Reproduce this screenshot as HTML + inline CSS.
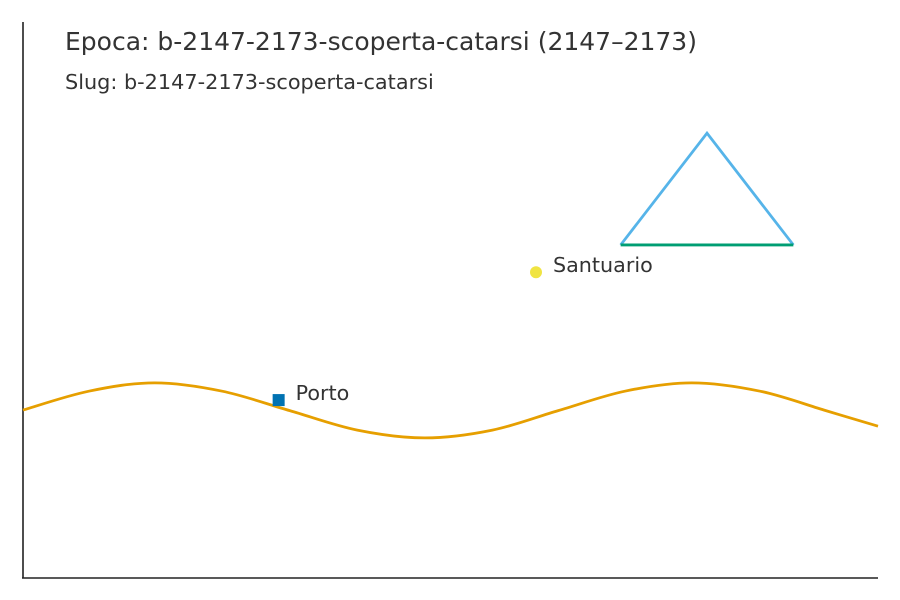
<!DOCTYPE html>
<html><head><meta charset="utf-8"><style>
body{margin:0;background:#fff;}
svg{display:block;font-family:"DejaVu Sans","Liberation Sans",sans-serif;}
</style></head><body>
<svg id="c" width="900" height="600">
<text x="65" y="50" font-size="25" fill="#333">Epoca: b-2147-2173-scoperta-catarsi (2147–2173)</text>
<text x="65" y="89" font-size="20.8" fill="#333">Slug: b-2147-2173-scoperta-catarsi</text>
<line x1="23" y1="22" x2="23" y2="578" stroke="#222" stroke-width="1.6"/>
<line x1="22" y1="578" x2="878" y2="578" stroke="#222" stroke-width="1.6"/>
</svg>
<script>
const waveX=[0,7.7,15.4,23.3,31.2,39.1,47,54.9,62.6,70.4,78.2,86.2,93.9,100];
const waveY=[30.2,33.6,35.1,33.6,30.1,26.6,25.2,26.6,30.1,33.6,35.1,33.6,30.1,27.3];
const triX=[69.9,80.0,90.1];
const triY=[59.9,80.0,59.9];
const placeNames=["Porto","Santuario"];
const placeX=[29.9,60.0];
const placeY=[32.0,55.0];
const xs=v=>23+v*8.55, ys=v=>578-v*5.56;
const svg=document.getElementById('c'), NS='http://www.w3.org/2000/svg';
function mk(t,a){const e=document.createElementNS(NS,t);for(const k in a)e.setAttribute(k,a[k]);svg.appendChild(e);return e;}
const P=waveX.map((x,i)=>[xs(x),ys(waveY[i])]);
let d=`M${P[0][0]},${P[0][1]}`;
for(let i=0;i<P.length-1;i++){const p0=P[Math.max(0,i-1)],p1=P[i],p2=P[i+1],p3=P[Math.min(P.length-1,i+2)];
d+=` C${p1[0]+(p2[0]-p0[0])/6},${p1[1]+(p2[1]-p0[1])/6} ${p2[0]-(p3[0]-p1[0])/6},${p2[1]-(p3[1]-p1[1])/6} ${p2[0]},${p2[1]}`;}
const w=mk('path',{d,fill:'none',stroke:'#E69F00','stroke-width':2.8});


const t1=mk('polyline',{points:[0,1,2].map(i=>xs(triX[i])+','+ys(triY[i])).join(' '),fill:'none',stroke:'#56B4E9','stroke-width':2.8});


const t2=mk('line',{x1:xs(triX[0]),y1:ys(triY[0]),x2:xs(triX[2]),y2:ys(triY[2]),stroke:'#009E73','stroke-width':2.8});


const sq=mk('rect',{x:xs(placeX[0])-6,y:ys(placeY[0])-6,width:12,height:12,fill:'#0072B2'});


const ci=mk('circle',{cx:xs(placeX[1]),cy:ys(placeY[1]),r:6,fill:'#F0E442'});


placeNames.forEach((n,i)=>{const t=mk('text',{x:xs(placeX[i])+17,y:ys(placeY[i])+0,'font-size':20.7,fill:'#333'});t.textContent=n;

});
</script>
</body></html>
